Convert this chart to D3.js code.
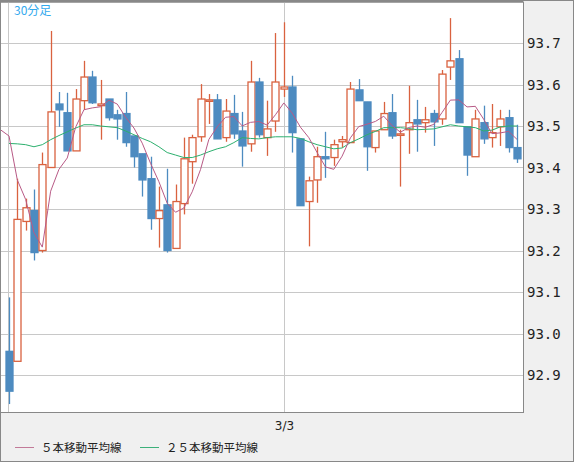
<!DOCTYPE html>
<html><head><meta charset="utf-8">
<script src="https://cdn.jsdelivr.net/npm/d3@7"></script>
<style>body{margin:0;background:#f0f0f0}svg{display:block}</style>
</head><body><svg id="c" width="574" height="462"></svg>
<script>
const opens  = [92.957,92.933,93.27,93.296,93.2,93.4,93.553,93.532,93.44,93.561,93.618,93.549,93.565,93.527,93.53,93.476,93.433,93.373,93.277,93.31,93.205,93.313,93.414,93.474,93.561,93.563,93.472,93.53,93.488,93.457,93.606,93.472,93.512,93.589,93.594,93.469,93.318,93.37,93.426,93.424,93.462,93.46,93.587,93.558,93.448,93.491,93.532,93.479,93.491,93.515,93.508,93.53,93.517,93.642,93.662,93.498,93.426,93.508,93.472,93.498,93.52,93.448];
const closes = [92.861,93.275,93.303,93.195,93.407,93.534,93.539,93.44,93.565,93.618,93.556,93.553,93.52,93.517,93.46,93.426,93.37,93.277,93.296,93.2,93.318,93.421,93.472,93.565,93.563,93.469,93.536,93.481,93.452,93.606,93.479,93.493,93.606,93.594,93.484,93.308,93.368,93.426,93.421,93.455,93.467,93.589,93.561,93.45,93.488,93.53,93.476,93.481,93.508,93.505,93.515,93.51,93.625,93.657,93.508,93.43,93.517,93.469,93.484,93.517,93.448,93.421];
const highs  = [93.087,93.373,93.325,93.347,93.436,93.729,93.582,93.58,93.589,93.657,93.633,93.611,93.565,93.539,93.582,93.476,93.433,93.426,93.354,93.397,93.359,93.472,93.479,93.601,93.577,93.577,93.565,93.575,93.534,93.657,93.616,93.561,93.724,93.75,93.621,93.469,93.378,93.45,93.486,93.467,93.476,93.606,93.613,93.558,93.488,93.558,93.577,93.491,93.597,93.563,93.546,93.539,93.635,93.76,93.683,93.498,93.539,93.549,93.553,93.539,93.539,93.503];
const lows   = [92.83,92.933,93.248,93.176,93.195,93.4,93.498,93.44,93.44,93.539,93.553,93.467,93.513,93.467,93.45,93.4,93.33,93.25,93.207,93.195,93.205,93.287,93.361,93.462,93.505,93.469,93.462,93.469,93.402,93.438,93.472,93.428,93.486,93.57,93.436,93.308,93.21,93.315,93.375,93.404,93.448,93.46,93.561,93.392,93.436,93.491,93.469,93.354,93.433,93.438,93.484,93.452,93.503,93.611,93.508,93.38,93.426,93.457,93.448,93.452,93.436,93.411];
const ma5Start = [93.476,93.37,93.323,93.243];
const ma25 = [93.458,93.457,93.455,93.45,93.455,93.467,93.477,93.486,93.495,93.503,93.503,93.5,93.498,93.496,93.488,93.479,93.47,93.462,93.45,93.436,93.43,93.424,93.424,93.43,93.438,93.445,93.45,93.46,93.472,93.47,93.469,93.472,93.474,93.474,93.474,93.47,93.462,93.455,93.45,93.445,93.447,93.46,93.469,93.479,93.487,93.496,93.496,93.496,93.494,93.491,93.492,93.493,93.498,93.503,93.5,93.498,93.496,93.488,93.49,93.498,93.5,93.5];
const yTicks = [92.9,93.0,93.1,93.2,93.3,93.4,93.5,93.6,93.7];
const dateLabels = [{i:33,label:"3/3"}];
const dateLinesNoLabel = [-0.1];
const legendItems = ["５本移動平均線","２５本移動平均線"];

const ma5 = closes.map((c,i)=> i<4 ? ma5Start[i] : d3.mean(closes.slice(i-4,i+1)));
const svg = d3.select("#c");
const L=1,R=523,T=2,B=412;
const x = d3.scaleLinear().domain([0,61]).range([9,517]);
const y = d3.scaleLinear().domain([92.9,93.7]).range([375,43]);
const up="#d9623f", dn="#4d8bc0";
svg.append("rect").attr("x",0.5).attr("y",0.5).attr("width",573).attr("height",461).attr("fill","#f0f0f0").attr("stroke","#888");
svg.append("rect").attr("x",L).attr("y",T).attr("width",R-L).attr("height",B-T).attr("fill","#fff");
svg.append("line").attr("x1",0).attr("x2",R).attr("y1",1.5).attr("y2",1.5).attr("stroke","#888").attr("stroke-width",2);
const g=svg.append("g");
yTicks.forEach(t=>{
  g.append("line").attr("x1",L).attr("x2",R).attr("y1",Math.round(y(t))+0.5).attr("y2",Math.round(y(t))+0.5).attr("stroke","#c8c8c8");
  svg.append("text").attr("x",527).attr("y",y(t)+5).text(t.toFixed(1)).attr("font-family","DejaVu Sans Mono").attr("font-size",14).attr("fill","#222");
});
dateLabels.forEach(d=>{
  const xx=Math.round(x(d.i))+0.5;
  g.append("line").attr("x1",xx).attr("x2",xx).attr("y1",T).attr("y2",B).attr("stroke","#c8c8c8");
  svg.append("text").attr("x",xx).attr("y",430).attr("text-anchor","middle").text(d.label).attr("font-family","DejaVu Sans").attr("font-size",12).attr("fill","#222");
});
dateLinesNoLabel.forEach(i=>{
  const xx=Math.round(x(i))+0.5;
  g.append("line").attr("x1",xx).attr("x2",xx).attr("y1",T).attr("y2",B).attr("stroke","#c8c8c8");
});
svg.append("rect").attr("x",L-0.5).attr("y",T).attr("width",R-L+1).attr("height",B-T+0.5).attr("fill","none").attr("stroke","#888");
const cg=svg.append("g");
closes.forEach((c,i)=>{
  const o=opens[i], isUp=c>=o, col=isUp?up:dn, cx=Math.round(x(i))+0.5;
  cg.append("line").attr("x1",cx).attr("x2",cx).attr("y1",y(highs[i])).attr("y2",y(lows[i])).attr("stroke",col).attr("stroke-width",1.3);
  const top=y(Math.max(o,c)), h=Math.max(1.5,Math.abs(y(o)-y(c)));
  cg.append("rect").attr("x",cx-3.5).attr("y",top).attr("width",7).attr("height",h)
    .attr("fill",isUp?"#fff":col).attr("stroke",col).attr("stroke-width",1.3);
});
const line=d3.line().x((d,i)=>x(i)).y(d=>y(d));
svg.append("path").datum(ma25).attr("d",line).attr("fill","none").attr("stroke","#2cb06e").attr("stroke-width",1);
svg.append("path").datum([93.49].concat(ma5)).attr("d",d3.line().x((d,i)=>i==0?L:x(i-1)).y(d=>y(d))).attr("fill","none").attr("stroke","#b85a86").attr("stroke-width",1);
svg.append("text").attr("x",14).attr("y",15).text("30分足").attr("font-family","Noto Sans CJK JP").attr("font-size",12).attr("fill","#33aaee");
const lc=["#c27a98","#3cb07a"], lx=[15,140];
legendItems.forEach((t,k)=>{
  svg.append("line").attr("x1",lx[k]).attr("x2",lx[k]+19).attr("y1",447.5).attr("y2",447.5).attr("stroke",lc[k]);
  svg.append("text").attr("x",lx[k]+26).attr("y",452).text(t).attr("font-family","Noto Sans CJK JP").attr("font-size",11.5).attr("fill","#222");
});
</script></body></html>
